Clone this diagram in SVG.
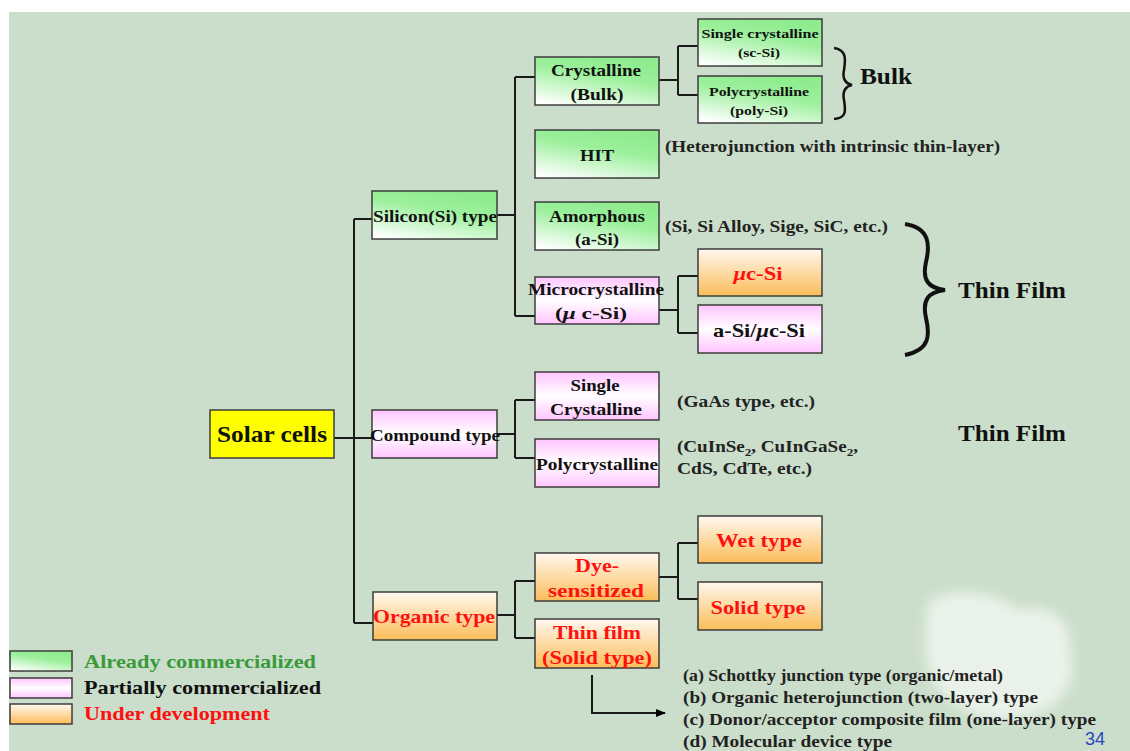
<svg xmlns="http://www.w3.org/2000/svg" width="1130" height="751" viewBox="0 0 1130 751" font-family="Liberation Serif, Times New Roman, serif">
  <defs>
    <linearGradient id="gGreen" x1="0.15" y1="1" x2="0.6" y2="0">
      <stop offset="0" stop-color="#ffffff"/>
      <stop offset="0.65" stop-color="#9cf09c"/>
      <stop offset="1" stop-color="#8eec8e"/>
    </linearGradient>
    <linearGradient id="gPink" x1="0" y1="0" x2="0" y2="1">
      <stop offset="0" stop-color="#ffc4ff"/>
      <stop offset="0.5" stop-color="#ffffff"/>
      <stop offset="1" stop-color="#ffc4ff"/>
    </linearGradient>
    <linearGradient id="gOrange" x1="0" y1="0" x2="0" y2="1">
      <stop offset="0" stop-color="#fff8f0"/>
      <stop offset="1" stop-color="#fbbd58"/>
    </linearGradient>
    <filter id="haze" x="-30%" y="-30%" width="160%" height="160%">
      <feGaussianBlur stdDeviation="6"/>
    </filter>
    <marker id="arrow" markerWidth="10" markerHeight="10" refX="9" refY="5" orient="auto" markerUnits="userSpaceOnUse">
      <path d="M0,1 L10,5 L0,9 Z" fill="#000"/>
    </marker>
    <style>
      .box { stroke: #3c3c3c; stroke-width: 1.5; }
      .green { fill: url(#gGreen); }
      .pink { fill: url(#gPink); }
      .orange { fill: url(#gOrange); }
      .t, .note, .big, .lg { font-weight: bold; }
      .t { fill: #111; text-anchor: middle; }
      .n16 { font-size: 17px; }
      .n13 { font-size: 13px; }
      .red { fill: #ff1010; }
      .note { font-size: 16px; fill: #222; }
      .big { font-size: 23px; fill: #111; }
      .lg { font-size: 19px; }
      .wire { fill: none; stroke: #1a1a1a; stroke-width: 2; }
    </style>
  </defs>

  <!-- slide background -->
  <rect x="0" y="0" width="1130" height="751" fill="#ffffff"/>
  <rect x="9" y="12" width="1121" height="739" fill="#cbdecb"/>
  <g opacity="0.6" filter="url(#haze)" fill="#ffffff">
    <path d="M930,600 C960,585 1000,595 1020,610 C1045,600 1075,620 1070,650 C1080,680 1060,710 1030,715 C1000,725 960,715 945,695 C925,680 920,640 930,600 Z"/>
  </g>

  <!-- connectors -->
  <g id="connectors">
    <path class="wire" d="M334,438 H372 M354,219 V623 M354,219 H372 M354,623 H374"/>
    <path class="wire" d="M497,215 H515 M515,77 V316 M515,77 H535 M515,316 H535"/>
    <path class="wire" d="M659,80 H678 M678,46 V95 M678,46 H698 M678,95 H698"/>
    <path class="wire" d="M659,310 H678 M678,276 V333 M678,276 H698 M678,333 H698"/>
    <path class="wire" d="M497,434 H515 M515,400 V458 M515,400 H535 M515,458 H535"/>
    <path class="wire" d="M497,615 H515 M515,581 V638 M515,581 H535 M515,638 H535"/>
    <path class="wire" d="M659,577 H678 M678,543 V599 M678,543 H698 M678,599 H698"/>
    <path class="wire" d="M592,675 V713 H665" marker-end="url(#arrow)"/>
  </g>

  <!-- root -->
  <g id="solar-cells">
    <rect class="box" x="210" y="410" width="124" height="48" fill="#ffff00"/>
    <text class="t" x="272" y="442" font-size="23" textLength="110" lengthAdjust="spacingAndGlyphs">Solar cells</text>
  </g>

  <!-- level 1 -->
  <g id="silicon-type">
    <rect class="box green" x="372" y="191" width="125" height="48"/>
    <text class="t n16" x="435" y="222" textLength="124" lengthAdjust="spacingAndGlyphs">Silicon(Si) type</text>
  </g>
  <g id="compound-type">
    <rect class="box pink" x="372" y="410" width="125" height="48"/>
    <text class="t n16" x="435" y="441" textLength="130" lengthAdjust="spacingAndGlyphs">Compound type</text>
  </g>
  <g id="organic-type">
    <rect class="box orange" x="373" y="592" width="124" height="48"/>
    <text class="t red" x="434" y="623" font-size="19" textLength="122" lengthAdjust="spacingAndGlyphs">Organic type</text>
  </g>

  <!-- silicon branch -->
  <g id="crystalline">
    <rect class="box green" x="535" y="57" width="124" height="48"/>
    <text class="t n16" x="596" y="76" textLength="90" lengthAdjust="spacingAndGlyphs">Crystalline</text>
    <text class="t n16" x="597" y="100" textLength="53" lengthAdjust="spacingAndGlyphs">(Bulk)</text>
  </g>
  <g id="hit">
    <rect class="box green" x="535" y="130" width="124" height="48"/>
    <text class="t n16" x="597" y="161" textLength="34" lengthAdjust="spacingAndGlyphs">HIT</text>
  </g>
  <g id="amorphous">
    <rect class="box green" x="535" y="202" width="124" height="48"/>
    <text class="t n16" x="597" y="222" textLength="96" lengthAdjust="spacingAndGlyphs">Amorphous</text>
    <text class="t n16" x="597" y="245" textLength="44" lengthAdjust="spacingAndGlyphs">(a-Si)</text>
  </g>
  <g id="microcrystalline">
    <rect class="box pink" x="535" y="277" width="124" height="47"/>
    <text class="t n16" x="596" y="295" textLength="136" lengthAdjust="spacingAndGlyphs">Microcrystalline</text>
    <text class="t n16" x="591" y="319" textLength="72" lengthAdjust="spacingAndGlyphs">(<tspan font-style="italic">μ</tspan> c-Si)</text>
  </g>
  <g id="single-crystalline-si">
    <rect class="box green" x="698" y="19" width="124" height="47"/>
    <text class="t n13" x="760" y="38" textLength="117" lengthAdjust="spacingAndGlyphs">Single crystalline</text>
    <text class="t n13" x="759" y="57" textLength="42" lengthAdjust="spacingAndGlyphs">(sc-Si)</text>
  </g>
  <g id="polycrystalline-si">
    <rect class="box green" x="698" y="76" width="124" height="47"/>
    <text class="t n13" x="759" y="96" textLength="100" lengthAdjust="spacingAndGlyphs">Polycrystalline</text>
    <text class="t n13" x="759" y="115" textLength="58" lengthAdjust="spacingAndGlyphs">(poly-Si)</text>
  </g>
  <g id="uc-si">
    <rect class="box orange" x="698" y="249" width="124" height="47"/>
    <text class="t red" x="758" y="280" font-size="19" textLength="49" lengthAdjust="spacingAndGlyphs"><tspan font-style="italic">μ</tspan>c-Si</text>
  </g>
  <g id="a-si-uc-si">
    <rect class="box pink" x="698" y="305" width="124" height="48"/>
    <text class="t" x="759" y="337" font-size="19" textLength="92" lengthAdjust="spacingAndGlyphs">a-Si/<tspan font-style="italic">μ</tspan>c-Si</text>
  </g>

  <!-- compound branch -->
  <g id="single-crystalline">
    <rect class="box pink" x="535" y="372" width="124" height="48"/>
    <text class="t n16" x="595" y="391" textLength="49" lengthAdjust="spacingAndGlyphs">Single</text>
    <text class="t n16" x="596" y="415" textLength="92" lengthAdjust="spacingAndGlyphs">Crystalline</text>
  </g>
  <g id="polycrystalline">
    <rect class="box pink" x="535" y="439" width="124" height="48"/>
    <text class="t n16" x="597" y="470" textLength="122" lengthAdjust="spacingAndGlyphs">Polycrystalline</text>
  </g>

  <!-- organic branch -->
  <g id="dye-sensitized">
    <rect class="box orange" x="535" y="553" width="124" height="48"/>
    <text class="t red" x="597" y="572" font-size="19" textLength="44" lengthAdjust="spacingAndGlyphs">Dye-</text>
    <text class="t red" x="596" y="597" font-size="19" textLength="96" lengthAdjust="spacingAndGlyphs">sensitized</text>
  </g>
  <g id="thin-film-solid">
    <rect class="box orange" x="535" y="619" width="124" height="49"/>
    <text class="t red" x="597" y="639" font-size="19" textLength="88" lengthAdjust="spacingAndGlyphs">Thin film</text>
    <text class="t red" x="597" y="664" font-size="19" textLength="110" lengthAdjust="spacingAndGlyphs">(Solid type)</text>
  </g>
  <g id="wet-type">
    <rect class="box orange" x="698" y="516" width="124" height="47"/>
    <text class="t red" x="759" y="547" font-size="19" textLength="86" lengthAdjust="spacingAndGlyphs">Wet type</text>
  </g>
  <g id="solid-type">
    <rect class="box orange" x="698" y="582" width="124" height="48"/>
    <text class="t red" x="758" y="614" font-size="19" textLength="95" lengthAdjust="spacingAndGlyphs">Solid type</text>
  </g>

  <!-- annotations -->
  <g id="notes">
    <text class="note" x="665" y="152" textLength="335" lengthAdjust="spacingAndGlyphs">(Heterojunction with intrinsic thin-layer)</text>
    <text class="note" x="665" y="232" textLength="223" lengthAdjust="spacingAndGlyphs">(Si, Si Alloy, Sige, SiC, etc.)</text>
    <text class="note" x="677" y="407" textLength="138" lengthAdjust="spacingAndGlyphs">(GaAs type, etc.)</text>
    <text class="note" x="677" y="452" textLength="181" lengthAdjust="spacingAndGlyphs">(CuInSe<tspan font-size="11" dy="4">2</tspan><tspan dy="-4">, CuInGaSe</tspan><tspan font-size="11" dy="4">2</tspan><tspan dy="-4">,</tspan></text>
    <text class="note" x="677" y="474" textLength="135" lengthAdjust="spacingAndGlyphs">CdS, CdTe, etc.)</text>
    <text class="note" x="683" y="681" textLength="320" lengthAdjust="spacingAndGlyphs">(a) Schottky junction type (organic/metal)</text>
    <text class="note" x="683" y="703" textLength="355" lengthAdjust="spacingAndGlyphs">(b) Organic heterojunction (two-layer) type</text>
    <text class="note" x="683" y="725" textLength="413" lengthAdjust="spacingAndGlyphs">(c) Donor/acceptor composite film (one-layer) type</text>
    <text class="note" x="683" y="747" textLength="209" lengthAdjust="spacingAndGlyphs">(d) Molecular device type</text>
  </g>

  <!-- braces and group labels -->
  <g id="bulk-group">
    <path d="M834,48 C846,50 846,58 844,70 C842,79 846,84 852,85 C846,86 842,91 844,100 C846,112 846,118 834,119" fill="none" stroke="#111" stroke-width="2.5"/>
    <text class="big" x="860" y="84" textLength="52" lengthAdjust="spacingAndGlyphs">Bulk</text>
  </g>
  <g id="thin-film-group">
    <path d="M905,224 C930,228 930,245 926,262 C922,280 928,288 945,290 C928,292 922,300 926,318 C930,335 930,350 905,355" fill="none" stroke="#111" stroke-width="4"/>
    <text class="big" x="958" y="298" textLength="108" lengthAdjust="spacingAndGlyphs">Thin Film</text>
    <text class="big" x="958" y="441" textLength="108" lengthAdjust="spacingAndGlyphs">Thin Film</text>
  </g>

  <!-- legend -->
  <g id="legend">
    <rect class="box green" x="10" y="651" width="62" height="20"/>
    <rect class="box pink" x="10" y="678" width="62" height="20"/>
    <rect class="box orange" x="10" y="704" width="62" height="20"/>
    <text class="lg" x="84" y="668" fill="#3a9a3a" textLength="232" lengthAdjust="spacingAndGlyphs">Already commercialized</text>
    <text class="lg" x="84" y="694" fill="#111" textLength="237" lengthAdjust="spacingAndGlyphs">Partially commercialized</text>
    <text class="lg" x="84" y="720" fill="#ff1010" textLength="186" lengthAdjust="spacingAndGlyphs">Under development</text>
  </g>

  <text x="1085" y="745" font-family="Liberation Sans, Arial, sans-serif" font-size="18" fill="#2a45c0">34</text>
</svg>
